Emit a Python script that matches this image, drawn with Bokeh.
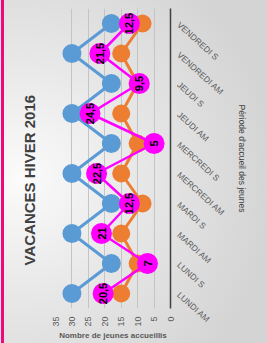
import math
from bokeh.plotting import figure
from bokeh.models import Range1d, FactorRange, FixedTicker, ColumnDataSource
from bokeh.core.properties import value
from bokeh.embed import file_html
from bokeh.resources import INLINE

categories = ["LUNDI AM", "LUNDI S", "MARDI AM", "MARDI S", "MERCREDI AM",
              "MERCREDI S", "JEUDI AM", "JEUDI S", "VENDREDI AM", "VENDREDI S"]
blue_vals = [30, 18, 30, 18, 30, 18, 30, 18, 30, 18]
orange_vals = [15, 10, 15, 8.5, 15, 10, 15, 10, 15, 8.5]
magenta_vals = [20.5, 7, 21, 12.5, 22.5, 5, 24.5, 9.5, 21.5, 12.5]
value_ticks = [0, 5, 10, 15, 20, 25, 30, 35]
title_text = "VACANCES HIVER 2016"
value_title = "Nombre de jeunes accueillis"
cat_title = "Période d'accueil des jeunes"

FONT = "Liberation Sans"

page_css = """
:host { position: relative; }
:host::after {
  content: ""; position: absolute; left: 1px; top: 0; width: 3px; height: 100%;
  background: #f2067e; z-index: 10;
}
"""

p = figure(width=267, height=343,
           x_range=Range1d(max(value_ticks), 0),
           y_range=FactorRange(*categories),
           y_axis_location="right",
           title=title_text, title_location="left",
           output_backend="svg", toolbar_location=None,
           min_border_left=54, min_border_right=97,
           min_border_top=8, min_border_bottom=35,
           styles={"background": "radial-gradient(ellipse 95% 75% at 8% 52%, #fbfbfb 0%, #e8e8e8 45%, #d4d4d4 100%)"},
           stylesheets=[page_css])

p.background_fill_color = None
p.border_fill_color = None
p.outline_line_color = None

# title
p.title.text_font = FONT
p.title.text_font_size = "15px"
p.title.text_font_style = "bold"
p.title.text_color = "#404040"
p.title.align = "left"
p.title.offset = 43
p.title.standoff = 36

# value axis (bottom)
xa = p.xaxis[0]
xa.ticker = FixedTicker(ticks=value_ticks)
xa.axis_line_color = None
xa.major_tick_line_color = None
xa.minor_tick_line_color = None
xa.major_tick_out = 0
xa.major_tick_in = 0
xa.minor_tick_out = 0
xa.major_label_orientation = math.pi / 2
xa.major_label_text_font = FONT
xa.major_label_text_font_size = "9px"
xa.major_label_text_color = "#595959"
xa.major_label_standoff = 8
xa.axis_label = value_title
xa.axis_label_text_font = FONT
xa.axis_label_text_font_size = "8px"
xa.axis_label_text_font_style = "bold"
xa.axis_label_text_color = "#595959"
xa.axis_label_standoff = 1
xa.axis_label_orientation = "parallel"

# category axis (right)
ya = p.yaxis[0]
ya.axis_line_color = "#404040"
ya.axis_line_width = 1.5
ya.major_tick_line_color = None
ya.minor_tick_line_color = None
ya.major_tick_out = 0
ya.major_tick_in = 0
ya.major_label_orientation = math.radians(-42)
ya.major_label_text_font = FONT
ya.major_label_text_font_size = "8.5px"
ya.major_label_text_color = "#595959"
ya.major_label_standoff = 8
ya.axis_label = cat_title
ya.axis_label_text_font = FONT
ya.axis_label_text_font_size = "8.5px"
ya.axis_label_text_font_style = "normal"
ya.axis_label_text_color = "#404040"
ya.axis_label_standoff = 4
ya.axis_label_orientation = "parallel"

p.xgrid.ticker = FixedTicker(ticks=value_ticks)
p.xgrid.grid_line_color = "#c4c4c4"
p.xgrid.grid_line_width = 1
p.ygrid.grid_line_color = None

src = ColumnDataSource(dict(
    cat=categories, blue=blue_vals, orange=orange_vals, mag=magenta_vals,
    lab=[("%g" % v).replace(".", ",") for v in magenta_vals]))

p.line("blue", "cat", source=src, line_color="#5b9bd5", line_width=3)
p.scatter("blue", "cat", source=src, size=19, fill_color="#5b9bd5", line_color=None)
p.line("orange", "cat", source=src, line_color="#ed7d31", line_width=3)
p.scatter("orange", "cat", source=src, size=18, fill_color="#ed7d31", line_color=None)
p.line("mag", "cat", source=src, line_color="#ff00ff", line_width=2.5)
p.scatter("mag", "cat", source=src, size=21, fill_color="#ff00ff", line_color=None)
p.text("mag", "cat", text="lab", source=src, angle=math.pi / 2,
       text_align="center", text_baseline="middle",
       text_font=value(FONT), text_font_size="11px", text_font_style="bold",
       text_color="#000000")

open("out.html", "w").write(file_html(p, INLINE))
